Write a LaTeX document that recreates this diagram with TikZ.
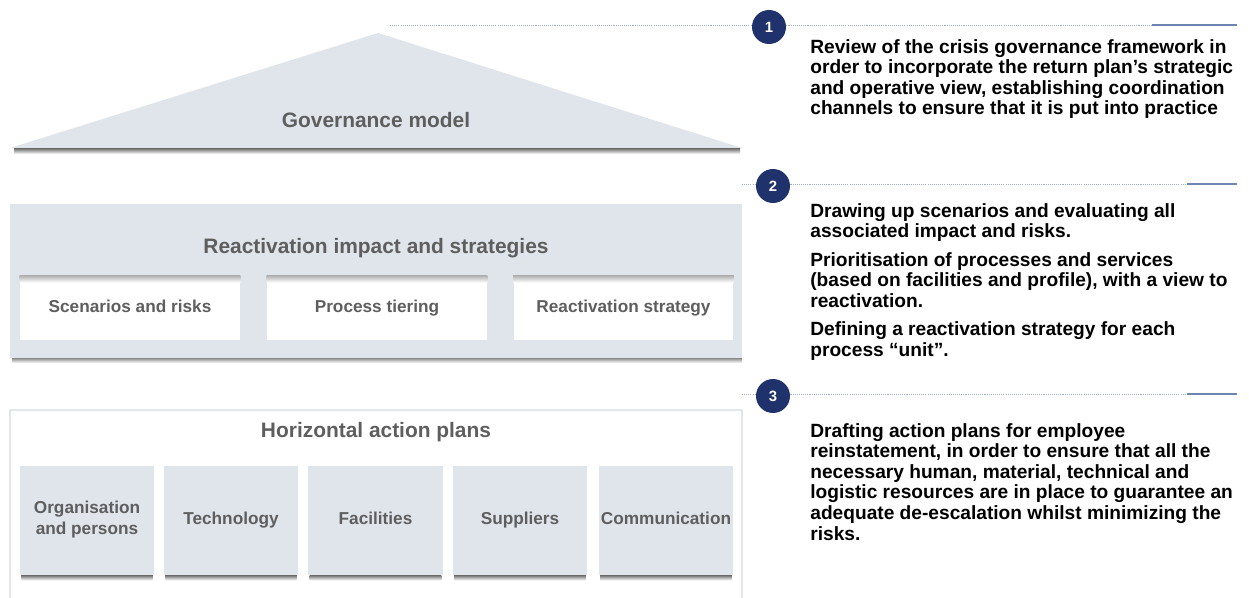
\documentclass[tikz,border=0pt]{standalone}
\usepackage{fontspec}
\setmainfont{Liberation Sans}
\usetikzlibrary{positioning}

\definecolor{boxfill}{HTML}{E0E4EB}
\definecolor{labelgray}{HTML}{5E5E5E}
\definecolor{navy}{HTML}{1F326B}
\definecolor{ruleblue}{HTML}{6C86B1}
\definecolor{dotblue}{HTML}{A3AFC7}
\definecolor{framegray}{HTML}{E3E6EB}

\tikzset{
  heading/.style={text=labelgray, inner sep=0pt, font=\fontsize{11.9}{13}\selectfont\bfseries},
  tile/.style={text=labelgray, align=center, inner sep=0pt, font=\fontsize{9.8}{11.9}\selectfont\bfseries, execute at begin node=\strut},
  whitetile/.style={tile, fill=white, minimum width=4.4cm, minimum height=1.28cm},
  graytile/.style={tile, fill=boxfill, minimum width=2.7cm, minimum height=2.18cm},
  numdot/.style={circle, fill=navy, text=white, minimum size=0.68cm, inner sep=0pt, font=\fontsize{8.5}{9}\selectfont\bfseries},
  note/.style={anchor=north west, align=left, inner sep=0pt, font=\fontsize{10.9}{11.7}\selectfont\bfseries},
  dotrule/.style={dotblue, line width=0.5pt, dash pattern=on 0.6pt off 0.6pt},
  solidrule/.style={ruleblue, line width=1.2pt}
}

\begin{document}
\begin{tikzpicture}[x=0.02cm, y=-0.02cm]
        \useasboundingbox (0,0) rectangle (1249,598);

        % Governance roof
        \shade [top color=black!60, bottom color=white] (14,148) rectangle (740,154);%
        \fill [boxfill] (10,148) -- (378,33) -- (742,148) -- cycle;%
        \node [heading] (gov) at (376,120) {Governance model};%

        % Reactivation block
        \shade [top color=black!55, bottom color=white] (12,357) rectangle (742,363);%
        \fill [boxfill] (10,204) rectangle (742,358);%
        \node [heading] (react) at (376,248) {Reactivation impact and strategies};%

        \node [whitetile] (scen) at (130,308) {Scenarios and risks};%
        \node [whitetile] (tier) at (377,308) {Process tiering};%
        \node [whitetile] (strat) at (623.5,308) {Reactivation strategy};%
        \shade [top color=black!30, bottom color=white] (scen.north west) rectangle ([yshift=-0.14cm]scen.north east);%
        \shade [top color=black!30, bottom color=white] (tier.north west) rectangle ([yshift=-0.14cm]tier.north east);%
        \shade [top color=black!30, bottom color=white] (strat.north west) rectangle ([yshift=-0.14cm]strat.north east);%

        % Horizontal action plans block
        \draw [framegray, line width=0.6pt] (10,604) -- (10,410) -- (742,410) -- (742,604);%
        \node [heading] (hori) at (376,432) {Horizontal action plans};%

        \node [graytile] (org) at (87,520.5) {Organisation\\and persons};%
        \node [graytile] (tech) at (231,520.5) {Technology};%
        \node [graytile] (fac) at (375.5,520.5) {Facilities};%
        \node [graytile] (sup) at (520,520.5) {Suppliers};%
        \node [graytile] (comm) at (666,520.5) {Communication};%
        \foreach \t in {org,tech,fac,sup,comm}
          \shade [top color=black!55, bottom color=white] ([xshift=0.04cm]\t.south west) rectangle ([xshift=-0.04cm,yshift=-0.1cm]\t.south east);%

        % Step 1
        \coordinate (l1a) at (390,25);
        \coordinate (l1b) at (1152,25);
        \coordinate (l1c) at (1237,25);
        \draw [dotrule] (l1a) -- (l1b);%
        \draw [solidrule] (l1b) -- (l1c);%
        \node [numdot] (n1) at (769,27) {1};%
        \node [note] (t1) at (810,39) {Review of the crisis governance framework in\\order to incorporate the return plan’s strategic\\and operative view, establishing coordination\\channels to ensure that it is put into practice};%

        % Step 2
        \coordinate (l2a) at (742,184);
        \coordinate (l2b) at (1187,184);
        \coordinate (l2c) at (1237,184);
        \draw [dotrule] (l2a) -- (l2b);%
        \draw [solidrule] (l2b) -- (l2c);%
        \node [numdot] (n2) at (773,186) {2};%
        \node [note] (t2) at (810,203) {Drawing up scenarios and evaluating all\\associated impact and risks.\\[4.5pt]Prioritisation of processes and services\\(based on facilities and profile), with a view to\\reactivation.\\[4.5pt]Defining a reactivation strategy for each\\process “unit”.};%

        % Step 3
        \coordinate (l3a) at (742,394);
        \coordinate (l3b) at (1187,394);
        \coordinate (l3c) at (1237,394);
        \draw [dotrule] (l3a) -- (l3b);%
        \draw [solidrule] (l3b) -- (l3c);%
        \node [numdot] (n3) at (773,396) {3};%
        \node [note] (t3) at (810,423) {Drafting action plans for employee\\reinstatement, in order to ensure that all the\\necessary human, material, technical and\\logistic resources are in place to guarantee an\\adequate de-escalation whilst minimizing the\\risks.};%
\end{tikzpicture}
\end{document}
